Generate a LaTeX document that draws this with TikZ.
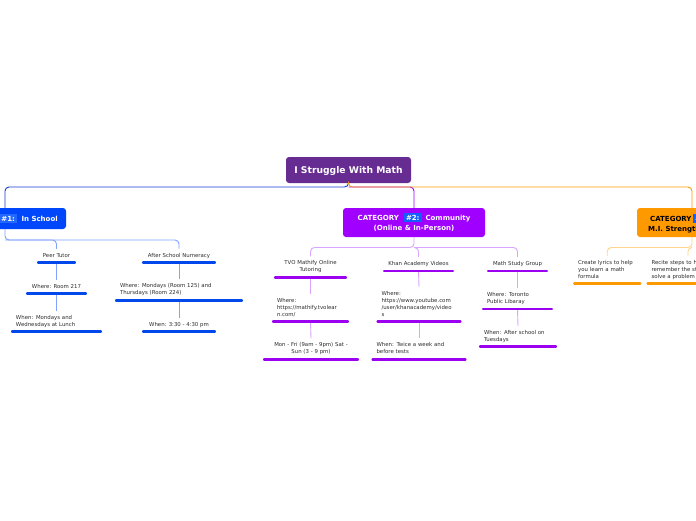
\documentclass[tikz,border=0pt]{standalone}
\usepackage{fontspec}
\setmainfont{DejaVu Sans}
\definecolor{rootc}{RGB}{102,44,145}
\definecolor{cat1c}{RGB}{0,70,250}
\definecolor{hl1c}{RGB}{35,105,255}
\definecolor{cat2c}{RGB}{160,0,255}
\definecolor{hl2c}{RGB}{20,95,255}
\definecolor{cat3c}{RGB}{255,153,0}
\definecolor{mainblue}{RGB}{20,62,210}
\definecolor{lineblue}{RGB}{130,162,255}
\definecolor{linepurple}{RGB}{218,165,255}
\definecolor{lineorange}{RGB}{255,212,140}
\definecolor{ulblue}{RGB}{0,72,235}
\definecolor{ulpurple}{RGB}{155,0,240}
\definecolor{ulorange}{RGB}{255,153,0}
\definecolor{leaftxt}{RGB}{45,45,45}
\newcommand\leaffont{\fontsize{5.4}{6.9}\selectfont}
\newcommand\catfont{\bfseries\fontsize{7}{10.3}\selectfont}
\newcommand\rootfont{\bfseries\fontsize{9.2}{11}\selectfont}
\newcommand\hlbox[2]{{\fboxsep=2pt\colorbox{#1}{#2}}}
\newcommand\dstrut{\rule[-1.5pt]{0pt}{1.5pt}}
\begin{document}
\begin{tikzpicture}[x=1pt,y=-1pt,
  rootbox/.style={rectangle, rounded corners=3pt, fill=rootc, text=white, font=\rootfont,
    minimum width=125pt, minimum height=26pt, inner sep=0pt, text height=7pt, text depth=0pt},
  catbox/.style={rectangle, rounded corners=3pt, inner sep=0pt},
  cattext/.style={font=\catfont, inner sep=0pt, anchor=base west},
  leaf/.style={font=\leaffont, text=leaftxt, inner xsep=5pt, inner ysep=4pt, anchor=south,
    execute at end node=\dstrut},
  ul/.style={line width=2.6pt, line cap=round, shorten <=1.3pt, shorten >=1.3pt},
  ulb/.style={ul, draw=ulblue},
  ulp/.style={ul, draw=ulpurple},
  ulo/.style={ul, draw=ulorange},
  conn/.style={rounded corners=4pt, line width=0.9pt},
  c1line/.style={conn, draw=lineblue},
  c2line/.style={conn, draw=linepurple},
  c3line/.style={conn, draw=lineorange}]
\useasboundingbox (0,0) rectangle (696,520);
\clip (0,0) rectangle (696,520);
\fill[white] (0,0) rectangle (696,520);

% root and categories
\node[rootbox] (root) at (348.5,170) {I Struggle With Math};
\node[catbox, fill=cat1c, minimum width=122pt, minimum height=21pt] (cat1) at (5,218.5) {};
\node[cattext, text=white] (cat1t) at (-0.8,221) {\hlbox{hl1c}{\#1:}\hspace{4.6pt}In School};
\node[catbox, fill=cat2c, text=white, font=\catfont, align=center, minimum width=142pt, minimum height=29pt] (cat2) at (414,222.5)
  {CATEGORY\hspace{5pt}\hlbox{hl2c}{\#2:}\hspace{4pt}Community\\(Online \& In-Person)};
\node[catbox, fill=cat3c, minimum width=110pt, minimum height=29pt] (cat3) at (692,222.5) {};
\node[cattext, text=black] (cat3a) at (650,221) {CATEGORY\hspace{1.5pt}\hlbox{hl2c}{\textcolor{white}{\#3:}}};
\node[cattext, text=black] (cat3b) at (648,231) {M.I. Strengths};

\coordinate (r1) at (348.5,187);
\draw[conn, draw=mainblue] (root.south) -- (r1) -| (cat1.north);
\draw[conn, draw=cat2c] (r1) -| (cat2.north);
\draw[conn, draw=cat3c] (root.south) -- (r1) -| (cat3.north);

% category 1 leaves
\node[leaf, minimum width=39pt] (pt) at (56.5,262.7) {Peer Tutor};
\node[leaf, minimum width=61pt] (pw) at (56.5,293.7) {Where: Room 217};
\node[leaf, text width=81pt, align=left] (pn) at (56.5,331.7) {When: Mondays and\\Wednesdays at Lunch};
\node[leaf, minimum width=74pt] (an) at (179,262.7) {After School Numeracy};
\node[leaf, text width=118pt, align=left] (aw) at (179,300.3) {Where: Mondays (Room 125) and\\Thursdays (Room 224)};
\node[leaf, minimum width=74pt] (asw) at (179,331.7) {When: 3:30 - 4:30 pm};

% category 2 leaves
\node[leaf, text width=63pt, align=center] (tvo) at (310.5,277.3) {TVO Mathify Online\\Tutoring};
\node[leaf, text width=67pt, align=left] (tvw) at (310.5,321.7) {Where:\\https://mathify.tvolear\\n.com/};
\node[leaf, text width=86pt, align=center] (tvt) at (311,359.3) {Mon - Fri (9am - 9pm) Sat -\\Sun (3 - 9 pm)};
\node[leaf, minimum width=71pt] (kh) at (418.5,271) {Khan Academy Videos};
\node[leaf, text width=75pt, align=left] (khw) at (419,321.7) {Where:\\https://www.youtube.com\\/user/khanacademy/video\\s};
\node[leaf, text width=85pt, align=left] (kht) at (419,359.3) {When: Twice a week and\\before tests};
\node[leaf, minimum width=61pt] (ms) at (517.5,271) {Math Study Group};
\node[leaf, text width=61pt, align=left] (msw) at (517.5,309) {Where: Toronto\\Public Libaray};
\node[leaf, text width=68pt, align=left] (mst) at (518,346.7) {When: After school on\\Tuesdays};

% category 3 leaves
\node[leaf, text width=58pt, align=left] (ly) at (607.2,283.7) {Create lyrics to help\\you learn a math\\formula};
\node[leaf, text width=73pt, align=left] (rc) at (688,283.7) {Recite steps to help\\remember the steps to\\solve a problem};

% connectors category 1
\coordinate (b1) at (5,240);
\draw[c1line] (cat1.south) -- (b1) -| (pt.north);
\draw[c1line] (b1) -| (an.north);
\draw[c1line] (pt.south) -- (pw.north);
\draw[c1line] (pw.south) -- (pn.north);
\draw[c1line] (an.south) -- (aw.north);
\draw[c1line] (aw.south) -- (asw.north);

% connectors category 2
\coordinate (b2) at (414,247.5);
\draw[c2line] (cat2.south) -- (b2) -| (tvo.north);
\draw[c2line] (b2) -| (kh.north);
\draw[c2line] (b2) -| (ms.north);
\draw[c2line] (tvo.south) -- (tvw.north);
\draw[c2line] (tvw.south) -- (tvt.north);
\draw[c2line] (kh.south) -- (khw.north);
\draw[c2line] (khw.south) -- (kht.north);
\draw[c2line] (ms.south) -- (msw.north);
\draw[c2line] (msw.south) -- (mst.north);

% connectors category 3
\coordinate (b3) at (692,247.5);
\draw[c3line] (cat3.south) -- (b3) -| (ly.north);
\draw[c3line] (b3) -| (rc.north);

% underlines
\foreach \n in {pt,pw,pn,an,aw,asw} \draw[ulb] (\n.south west) -- (\n.south east);
\foreach \n in {tvo,tvw,tvt,kh,khw,kht,ms,msw,mst} \draw[ulp] (\n.south west) -- (\n.south east);
\foreach \n in {ly,rc} \draw[ulo] (\n.south west) -- (\n.south east);
\end{tikzpicture}
\end{document}
